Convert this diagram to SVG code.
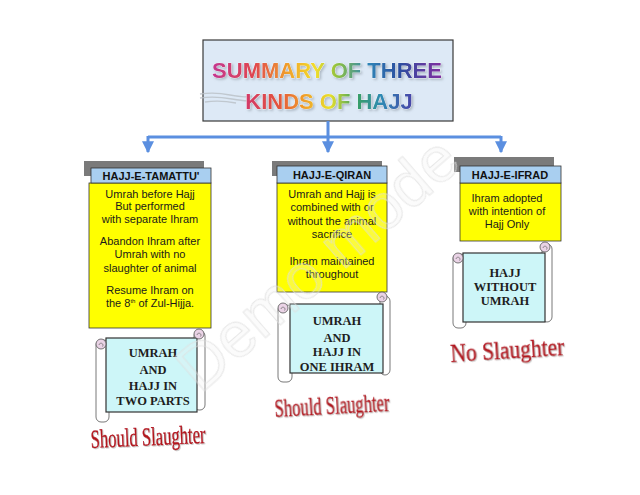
<svg xmlns="http://www.w3.org/2000/svg" width="640" height="495" viewBox="0 0 640 495">
<defs>
<linearGradient id="rb1" gradientUnits="userSpaceOnUse" x1="213" y1="0" x2="440" y2="0">
<stop offset="0" stop-color="#c4378f"/><stop offset="0.18" stop-color="#e0464f"/><stop offset="0.33" stop-color="#f0a02a"/><stop offset="0.45" stop-color="#f3de2c"/><stop offset="0.55" stop-color="#8cc040"/><stop offset="0.68" stop-color="#2f86b8"/><stop offset="0.82" stop-color="#2c4fa0"/><stop offset="1" stop-color="#7d2fa0"/>
</linearGradient>
<linearGradient id="rb2" gradientUnits="userSpaceOnUse" x1="245" y1="0" x2="415" y2="0">
<stop offset="0" stop-color="#d2386a"/><stop offset="0.2" stop-color="#e4553c"/><stop offset="0.35" stop-color="#f0a02a"/><stop offset="0.5" stop-color="#e8e02c"/><stop offset="0.65" stop-color="#3aa060"/><stop offset="0.8" stop-color="#2e8ab4"/><stop offset="1" stop-color="#4a3fa8"/>
</linearGradient>
<filter id="ts" x="-10%" y="-30%" width="120%" height="160%">
<feDropShadow dx="1.5" dy="1.5" stdDeviation="0.8" flood-color="#8a94a0" flood-opacity="0.6"/>
</filter>
<filter id="rs" x="-10%" y="-30%" width="120%" height="160%">
<feDropShadow dx="1" dy="1" stdDeviation="0.6" flood-color="#999" flood-opacity="0.5"/>
</filter>
<marker id="ah" viewBox="0 0 10 10" refX="9" refY="5" markerWidth="4" markerHeight="4" orient="auto" markerUnits="strokeWidth">
<path d="M0,0 L10,5 L0,10 z" fill="#5b8fe0"/>
</marker>
<g id="curl">
<circle r="5" fill="#ead3e6" stroke="#555" stroke-width="0.8"/>
<path d="M-2,1 A2,2 0 1 1 1.5,2.5" fill="none" stroke="#666" stroke-width="0.7"/>
</g>
</defs>
<style>
.title{font-family:"Liberation Sans",Arial,sans-serif;font-weight:bold;font-size:22px;text-anchor:middle;stroke:#ffffff;stroke-width:0.5;paint-order:stroke}
.shadow{fill:#7a7a7a}
.hdr{fill:#a9cff0;stroke:#333;stroke-width:0.8}
.body{fill:#ffff00;stroke:#333;stroke-width:0.8}
.ht{font-family:"Liberation Sans",Arial,sans-serif;font-weight:bold;font-size:11px;fill:#111;text-anchor:middle}
.bt{font-family:"Liberation Sans",Arial,sans-serif;font-size:11px;fill:#1a1a1a;text-anchor:middle}
.paper{fill:#ffffff;stroke:#555;stroke-width:0.8}
.cyan{fill:#cdf6f8;stroke:#333;stroke-width:1.2}
.st{font-family:"Liberation Serif","Times New Roman",serif;font-weight:bold;font-size:12.5px;fill:#1e1e1e;text-anchor:middle}
.red{font-family:"Liberation Serif","Times New Roman",serif;font-size:26px;fill:#b3141f;stroke:#b3141f;stroke-width:0.4}
.conn{stroke:#5b8fe0;stroke-width:3;fill:none}
.wm{font-family:"Liberation Sans",Arial,sans-serif;font-size:64px;fill:#f0f0f0;fill-opacity:0.25;stroke:#dedede;stroke-width:1;stroke-opacity:0.7;text-anchor:middle}
</style>
<rect width="640" height="495" fill="#ffffff"/>

<g id="title">
<rect x="203" y="40" width="250" height="81" fill="#dde9f6" stroke="#3a3a3a" stroke-width="1.2"/>
<path d="M200,94 Q215,92 230,95 T252,96 M200,98 Q215,96 232,99 T252,100 M205,102 Q220,100 236,103" fill="none" stroke="#b9bfc6" stroke-width="1.3" opacity="0.8"/>
<text class="title" x="327" y="78" fill="url(#rb1)" filter="url(#ts)">SUMMARY OF THREE</text>
<text class="title" x="329" y="109" fill="url(#rb2)" filter="url(#ts)">KINDS OF HAJJ</text>
</g>

<g id="connectors">
<path class="conn" d="M328,121 V137 M148,137 H501"/>
<path class="conn" d="M148,136 V152" marker-end="url(#ah)"/>
<path class="conn" d="M328,137 V152" marker-end="url(#ah)"/>
<path class="conn" d="M501,136 V152" marker-end="url(#ah)"/>
</g>

<g id="tamattu">
<rect class="shadow" x="84" y="161" width="120" height="15"/>
<rect class="body" x="89" y="183" width="122" height="145"/>
<rect class="hdr" x="91" y="168" width="120" height="15"/>
<text class="ht" x="151" y="180">HAJJ-E-TAMATTU'</text>
<text class="bt" x="150" y="198">Umrah before Hajj</text>
<text class="bt" x="150" y="210">But performed</text>
<text class="bt" x="150" y="223">with separate Ihram</text>
<text class="bt" x="150" y="245">Abandon Ihram after</text>
<text class="bt" x="150" y="258">Umrah with no</text>
<text class="bt" x="150" y="272">slaughter of animal</text>
<text class="bt" x="150" y="294">Resume Ihram on</text>
<text class="bt" x="150" y="307">the 8<tspan font-size="6" dy="-4">th</tspan><tspan dy="4"> of Zul-Hijja.</tspan></text>
</g>

<g id="qiran">
<rect class="shadow" x="272" y="161" width="110" height="15"/>
<rect class="body" x="277" y="183" width="110" height="109"/>
<rect class="hdr" x="277" y="166" width="110" height="17"/>
<text class="ht" x="332" y="179">HAJJ-E-QIRAN</text>
<text class="bt" x="332" y="198">Umrah and Hajj is</text>
<text class="bt" x="332" y="211">combined with or</text>
<text class="bt" x="332" y="225">without the animal</text>
<text class="bt" x="332" y="238">sacrifice</text>
<text class="bt" x="332" y="265">Ihram maintained</text>
<text class="bt" x="332" y="278">throughout</text>
</g>

<g id="ifrad">
<rect class="shadow" x="454" y="157" width="100" height="15"/>
<rect class="body" x="460" y="183" width="101" height="58"/>
<rect class="hdr" x="460" y="166" width="101" height="17"/>
<text class="ht" x="510" y="179">HAJJ-E-IFRAD</text>
<text class="bt" x="507" y="202">Ihram adopted</text>
<text class="bt" x="507" y="215">with intention of</text>
<text class="bt" x="507" y="228">Hajj Only</text>
</g>

<g id="scroll1">
<rect class="paper" x="96" y="340" width="13" height="82" rx="5"/>
<rect class="paper" x="194" y="331" width="11" height="79" rx="5"/>
<rect class="cyan" x="106" y="338" width="91" height="74"/>
<use href="#curl" x="101" y="344"/>
<use href="#curl" x="199" y="334"/>
<text class="st" x="153" y="357">UMRAH</text>
<text class="st" x="153" y="374">AND</text>
<text class="st" x="153" y="390">HAJJ IN</text>
<text class="st" x="153" y="405">TWO PARTS</text>
</g>

<g id="scroll2">
<rect class="paper" x="278" y="305" width="14" height="77" rx="5"/>
<rect class="paper" x="380" y="296" width="10" height="79" rx="5"/>
<rect class="cyan" x="290" y="304" width="93" height="69"/>
<use href="#curl" x="283" y="308"/>
<use href="#curl" x="382" y="297"/>
<text class="st" x="337" y="325">UMRAH</text>
<text class="st" x="337" y="342">AND</text>
<text class="st" x="337" y="356">HAJJ IN</text>
<text class="st" x="337" y="371">ONE  IHRAM</text>
</g>

<g id="scroll3">
<rect class="paper" x="453" y="254" width="13" height="74" rx="5"/>
<rect class="paper" x="542" y="244" width="10" height="78" rx="5"/>
<rect class="cyan" x="463" y="253" width="82" height="69"/>
<use href="#curl" x="458" y="258"/>
<use href="#curl" x="545" y="247"/>
<text class="st" x="505" y="277">HAJJ</text>
<text class="st" x="505" y="291">WITHOUT</text>
<text class="st" x="505" y="305">UMRAH</text>
</g>

<g id="labels" filter="url(#rs)">
<text class="red" x="91" y="448" textLength="115" lengthAdjust="spacingAndGlyphs" transform="rotate(-2.5 91 448)">Should Slaughter</text>
<text class="red" x="275" y="417" textLength="115" lengthAdjust="spacingAndGlyphs" transform="rotate(-3 275 417)">Should Slaughter</text>
<text class="red" x="451" y="362" font-size="27" textLength="114" lengthAdjust="spacingAndGlyphs" transform="rotate(-3.5 451 362)">No Slaughter</text>
</g>

<text class="wm" x="332" y="280" transform="rotate(-41 332 280)">Demo mode</text>
</svg>
